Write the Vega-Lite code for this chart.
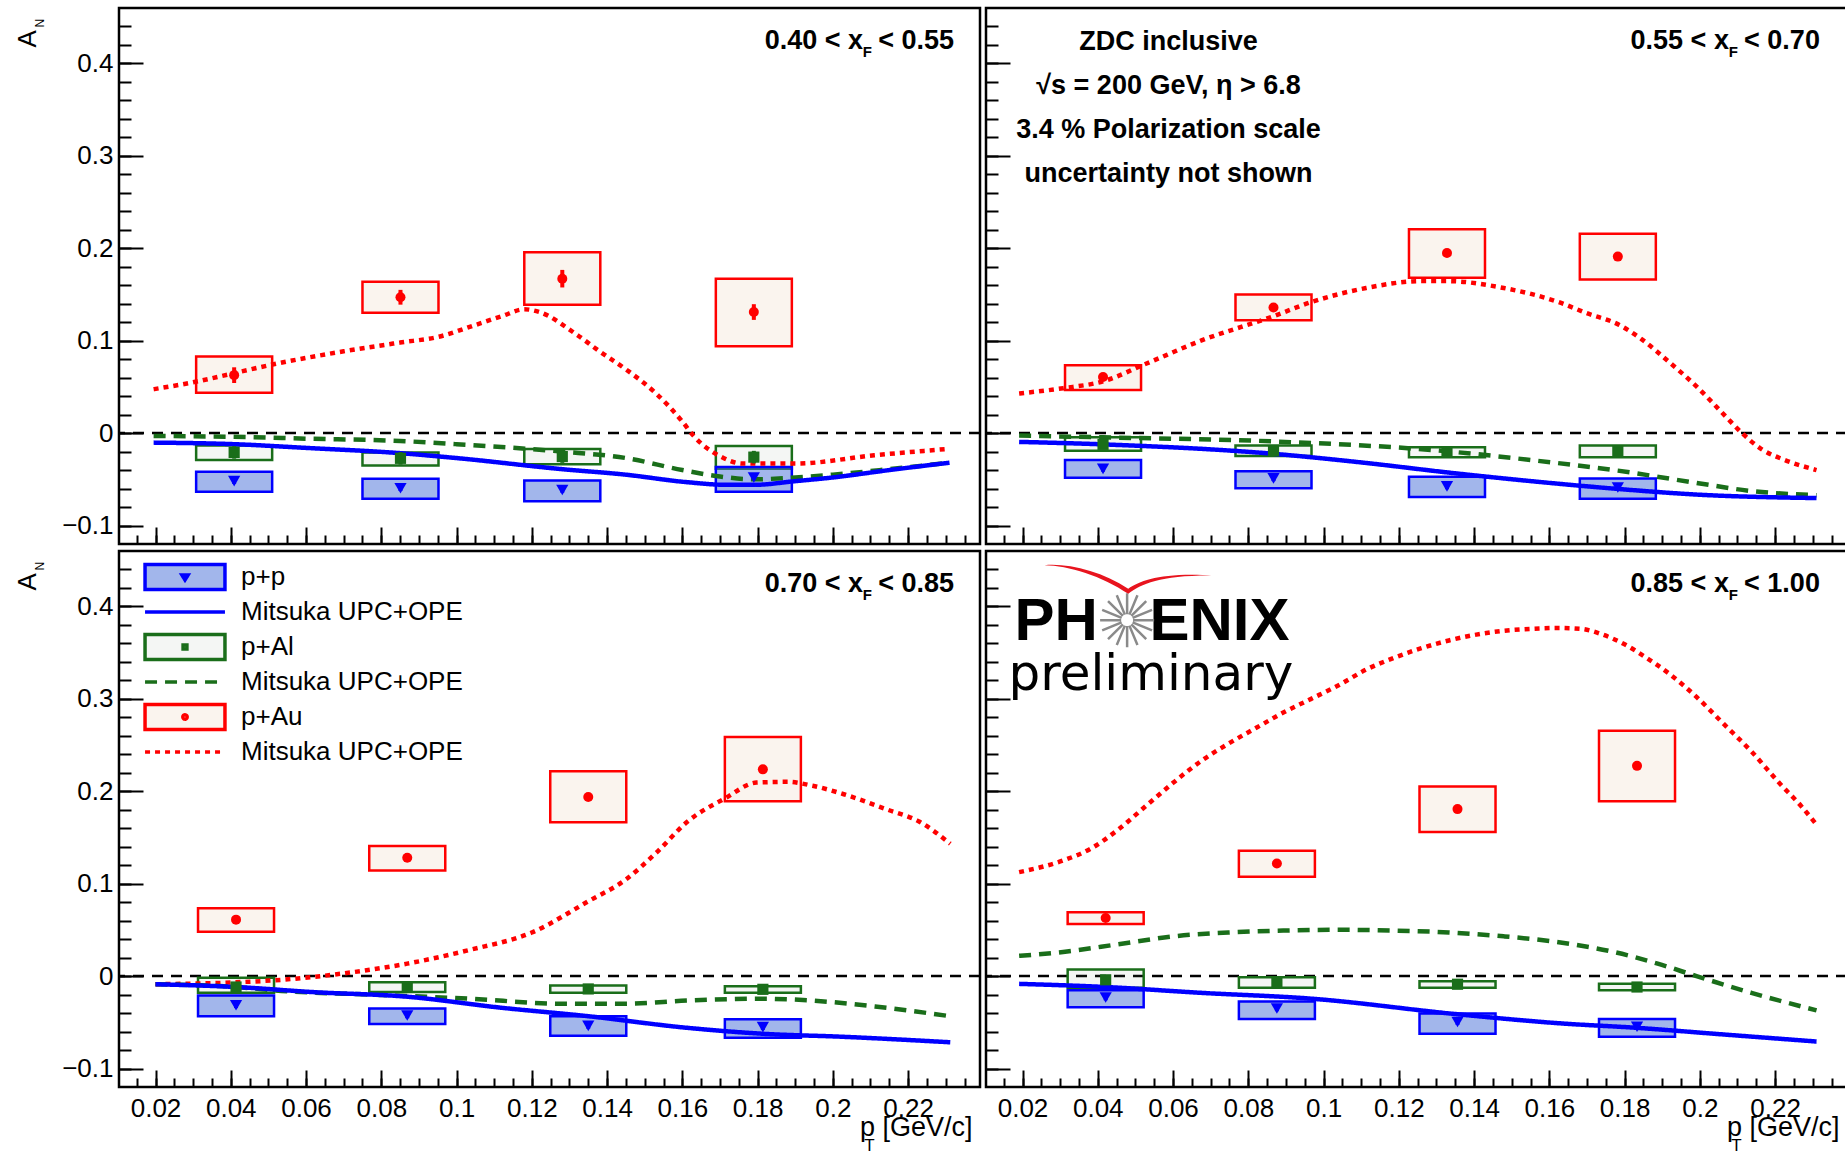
{
"$schema": "https://vega.github.io/schema/vega-lite/v6.json",
"autosize": {"type": "none"},
"padding": {"left": 119, "top": 8, "right": 1726, "bottom": 1147},
"background": "white",
"config": {
  "view": {"stroke": "black", "strokeWidth": 2.5},
  "font": "Liberation Sans",
  "text": {"font": "Liberation Sans", "color": "black"},
  "axis": {"labelFont": "Liberation Sans", "titleFont": "Liberation Sans", "labelFontSize": 26, "labelColor": "black", "titleColor": "black", "titleFontWeight": "normal", "tickColor": "black", "tickWidth": 2, "domain": false, "grid": false, "labelFlush": false, "labelOverlap": false}
},
"datasets": {
  "pts": [
    {"panel":"a","key":"p+Au","pt":0.0409,"ptLo":0.0308,"ptHi":0.051,"an":0.0627,"statLo":0.0542,"statHi":0.0712,"sysLo":0.0437,"sysHi":0.0828},
    {"panel":"a","key":"p+Au","pt":0.0851,"ptLo":0.075,"ptHi":0.0952,"an":0.147,"statLo":0.139,"statHi":0.155,"sysLo":0.1303,"sysHi":0.1637},
    {"panel":"a","key":"p+Au","pt":0.1281,"ptLo":0.118,"ptHi":0.1382,"an":0.1671,"statLo":0.1576,"statHi":0.1766,"sysLo":0.139,"sysHi":0.1956},
    {"panel":"a","key":"p+Au","pt":0.179,"ptLo":0.1689,"ptHi":0.1891,"an":0.131,"statLo":0.1225,"statHi":0.1395,"sysLo":0.094,"sysHi":0.167},
    {"panel":"a","key":"p+Al","pt":0.0409,"ptLo":0.0308,"ptHi":0.051,"an":-0.0209,"statLo":-0.0277,"statHi":-0.0141,"sysLo":-0.0292,"sysHi":-0.0133},
    {"panel":"a","key":"p+Al","pt":0.0851,"ptLo":0.075,"ptHi":0.0952,"an":-0.0273,"statLo":-0.0341,"statHi":-0.0205,"sysLo":-0.035,"sysHi":-0.0209},
    {"panel":"a","key":"p+Al","pt":0.1281,"ptLo":0.118,"ptHi":0.1382,"an":-0.0254,"statLo":-0.0322,"statHi":-0.0186,"sysLo":-0.0338,"sysHi":-0.0171},
    {"panel":"a","key":"p+Al","pt":0.179,"ptLo":0.1689,"ptHi":0.1891,"an":-0.026,"statLo":-0.0328,"statHi":-0.0192,"sysLo":-0.0387,"sysHi":-0.014},
    {"panel":"a","key":"p+p","pt":0.0409,"ptLo":0.0308,"ptHi":0.051,"an":-0.052,"statLo":-0.055,"statHi":-0.049,"sysLo":-0.0634,"sysHi":-0.0418},
    {"panel":"a","key":"p+p","pt":0.0851,"ptLo":0.075,"ptHi":0.0952,"an":-0.0596,"statLo":-0.0626,"statHi":-0.0566,"sysLo":-0.071,"sysHi":-0.0494},
    {"panel":"a","key":"p+p","pt":0.1281,"ptLo":0.118,"ptHi":0.1382,"an":-0.0615,"statLo":-0.0645,"statHi":-0.0585,"sysLo":-0.0737,"sysHi":-0.0513},
    {"panel":"a","key":"p+p","pt":0.179,"ptLo":0.1689,"ptHi":0.1891,"an":-0.048,"statLo":-0.051,"statHi":-0.045,"sysLo":-0.0634,"sysHi":-0.0368},

    {"panel":"b","key":"p+Au","pt":0.0414,"ptLo":0.0313,"ptHi":0.0515,"an":0.0608,"statLo":0.0578,"statHi":0.0638,"sysLo":0.0467,"sysHi":0.0733},
    {"panel":"b","key":"p+Au","pt":0.0867,"ptLo":0.0766,"ptHi":0.0968,"an":0.136,"statLo":0.133,"statHi":0.139,"sysLo":0.122,"sysHi":0.15},
    {"panel":"b","key":"p+Au","pt":0.1328,"ptLo":0.1227,"ptHi":0.1429,"an":0.1948,"statLo":0.1918,"statHi":0.1978,"sysLo":0.1682,"sysHi":0.2207},
    {"panel":"b","key":"p+Au","pt":0.1782,"ptLo":0.1681,"ptHi":0.1883,"an":0.191,"statLo":0.188,"statHi":0.194,"sysLo":0.1663,"sysHi":0.2157},
    {"panel":"b","key":"p+Al","pt":0.0414,"ptLo":0.0313,"ptHi":0.0515,"an":-0.0122,"statLo":-0.0162,"statHi":-0.0082,"sysLo":-0.019,"sysHi":-0.0046},
    {"panel":"b","key":"p+Al","pt":0.0867,"ptLo":0.0766,"ptHi":0.0968,"an":-0.019,"statLo":-0.023,"statHi":-0.015,"sysLo":-0.0247,"sysHi":-0.0133},
    {"panel":"b","key":"p+Al","pt":0.1328,"ptLo":0.1227,"ptHi":0.1429,"an":-0.0209,"statLo":-0.0249,"statHi":-0.0169,"sysLo":-0.0262,"sysHi":-0.0152},
    {"panel":"b","key":"p+Al","pt":0.1782,"ptLo":0.1681,"ptHi":0.1883,"an":-0.0197,"statLo":-0.0237,"statHi":-0.0157,"sysLo":-0.0262,"sysHi":-0.0133},
    {"panel":"b","key":"p+p","pt":0.0414,"ptLo":0.0313,"ptHi":0.0515,"an":-0.0387,"statLo":-0.0417,"statHi":-0.0357,"sysLo":-0.0482,"sysHi":-0.0292},
    {"panel":"b","key":"p+p","pt":0.0867,"ptLo":0.0766,"ptHi":0.0968,"an":-0.049,"statLo":-0.052,"statHi":-0.046,"sysLo":-0.0596,"sysHi":-0.0414},
    {"panel":"b","key":"p+p","pt":0.1328,"ptLo":0.1227,"ptHi":0.1429,"an":-0.0577,"statLo":-0.0607,"statHi":-0.0547,"sysLo":-0.0691,"sysHi":-0.0471},
    {"panel":"b","key":"p+p","pt":0.1782,"ptLo":0.1681,"ptHi":0.1883,"an":-0.0589,"statLo":-0.0619,"statHi":-0.0559,"sysLo":-0.071,"sysHi":-0.049},

    {"panel":"c","key":"p+Au","pt":0.0414,"ptLo":0.0313,"ptHi":0.0515,"an":0.0611,"statLo":0.0581,"statHi":0.0641,"sysLo":0.048,"sysHi":0.0733},
    {"panel":"c","key":"p+Au","pt":0.0869,"ptLo":0.0768,"ptHi":0.097,"an":0.128,"statLo":0.125,"statHi":0.131,"sysLo":0.1142,"sysHi":0.1407},
    {"panel":"c","key":"p+Au","pt":0.135,"ptLo":0.1249,"ptHi":0.1451,"an":0.1938,"statLo":0.1908,"statHi":0.1968,"sysLo":0.1664,"sysHi":0.2216},
    {"panel":"c","key":"p+Au","pt":0.1814,"ptLo":0.1713,"ptHi":0.1915,"an":0.2237,"statLo":0.2207,"statHi":0.2267,"sysLo":0.1892,"sysHi":0.2587},
    {"panel":"c","key":"p+Al","pt":0.0414,"ptLo":0.0313,"ptHi":0.0515,"an":-0.0118,"statLo":-0.0158,"statHi":-0.0078,"sysLo":-0.0181,"sysHi":-0.0017},
    {"panel":"c","key":"p+Al","pt":0.0869,"ptLo":0.0768,"ptHi":0.097,"an":-0.0118,"statLo":-0.0158,"statHi":-0.0078,"sysLo":-0.0173,"sysHi":-0.0067},
    {"panel":"c","key":"p+Al","pt":0.135,"ptLo":0.1249,"ptHi":0.1451,"an":-0.0139,"statLo":-0.0179,"statHi":-0.0099,"sysLo":-0.0181,"sysHi":-0.0101},
    {"panel":"c","key":"p+Al","pt":0.1814,"ptLo":0.1713,"ptHi":0.1915,"an":-0.0143,"statLo":-0.0183,"statHi":-0.0103,"sysLo":-0.0181,"sysHi":-0.011},
    {"panel":"c","key":"p+p","pt":0.0414,"ptLo":0.0313,"ptHi":0.0515,"an":-0.0316,"statLo":-0.0346,"statHi":-0.0286,"sysLo":-0.0434,"sysHi":-0.0211},
    {"panel":"c","key":"p+p","pt":0.0869,"ptLo":0.0768,"ptHi":0.097,"an":-0.0426,"statLo":-0.0456,"statHi":-0.0396,"sysLo":-0.0518,"sysHi":-0.035},
    {"panel":"c","key":"p+p","pt":0.135,"ptLo":0.1249,"ptHi":0.1451,"an":-0.0539,"statLo":-0.0569,"statHi":-0.0509,"sysLo":-0.0645,"sysHi":-0.0434},
    {"panel":"c","key":"p+p","pt":0.1814,"ptLo":0.1713,"ptHi":0.1915,"an":-0.0552,"statLo":-0.0582,"statHi":-0.0522,"sysLo":-0.0666,"sysHi":-0.0468},

    {"panel":"d","key":"p+Au","pt":0.0421,"ptLo":0.032,"ptHi":0.0522,"an":0.0628,"statLo":0.0598,"statHi":0.0658,"sysLo":0.0565,"sysHi":0.0691},
    {"panel":"d","key":"p+Au","pt":0.0876,"ptLo":0.0775,"ptHi":0.0977,"an":0.1218,"statLo":0.1188,"statHi":0.1248,"sysLo":0.1074,"sysHi":0.1357},
    {"panel":"d","key":"p+Au","pt":0.1356,"ptLo":0.1255,"ptHi":0.1457,"an":0.1807,"statLo":0.1777,"statHi":0.1837,"sysLo":0.1559,"sysHi":0.2052},
    {"panel":"d","key":"p+Au","pt":0.1833,"ptLo":0.1732,"ptHi":0.1934,"an":0.2275,"statLo":0.2245,"statHi":0.2305,"sysLo":0.1892,"sysHi":0.2654},
    {"panel":"d","key":"p+Al","pt":0.0421,"ptLo":0.032,"ptHi":0.0522,"an":-0.004,"statLo":-0.008,"statHi":0.0,"sysLo":-0.0126,"sysHi":0.0072},
    {"panel":"d","key":"p+Al","pt":0.0876,"ptLo":0.0775,"ptHi":0.0977,"an":-0.0063,"statLo":-0.0103,"statHi":-0.0023,"sysLo":-0.0126,"sysHi":-0.0013},
    {"panel":"d","key":"p+Al","pt":0.1356,"ptLo":0.1255,"ptHi":0.1457,"an":-0.0088,"statLo":-0.0128,"statHi":-0.0048,"sysLo":-0.0126,"sysHi":-0.0055},
    {"panel":"d","key":"p+Al","pt":0.1833,"ptLo":0.1732,"ptHi":0.1934,"an":-0.0118,"statLo":-0.0158,"statHi":-0.0078,"sysLo":-0.0152,"sysHi":-0.0084},
    {"panel":"d","key":"p+p","pt":0.0421,"ptLo":0.032,"ptHi":0.0522,"an":-0.0232,"statLo":-0.0262,"statHi":-0.0202,"sysLo":-0.0337,"sysHi":-0.0152},
    {"panel":"d","key":"p+p","pt":0.0876,"ptLo":0.0775,"ptHi":0.0977,"an":-0.035,"statLo":-0.038,"statHi":-0.032,"sysLo":-0.0463,"sysHi":-0.0274},
    {"panel":"d","key":"p+p","pt":0.1356,"ptLo":0.1255,"ptHi":0.1457,"an":-0.0497,"statLo":-0.0527,"statHi":-0.0467,"sysLo":-0.0624,"sysHi":-0.0404},
    {"panel":"d","key":"p+p","pt":0.1833,"ptLo":0.1732,"ptHi":0.1934,"an":-0.0548,"statLo":-0.0578,"statHi":-0.0518,"sysLo":-0.0657,"sysHi":-0.0463}
  ],
  "th": [
    {"panel":"a","key":"th_pAu","pt":0.0195,"an":0.0475},{"panel":"a","key":"th_pAu","pt":0.03,"an":0.055},{"panel":"a","key":"th_pAu","pt":0.041,"an":0.065},{"panel":"a","key":"th_pAu","pt":0.052,"an":0.075},{"panel":"a","key":"th_pAu","pt":0.07,"an":0.0885},{"panel":"a","key":"th_pAu","pt":0.085,"an":0.098},{"panel":"a","key":"th_pAu","pt":0.095,"an":0.104},{"panel":"a","key":"th_pAu","pt":0.105,"an":0.117},{"panel":"a","key":"th_pAu","pt":0.112,"an":0.1265},{"panel":"a","key":"th_pAu","pt":0.118,"an":0.134},{"panel":"a","key":"th_pAu","pt":0.122,"an":0.131},{"panel":"a","key":"th_pAu","pt":0.1316,"an":0.1075},{"panel":"a","key":"th_pAu","pt":0.138,"an":0.0885},{"panel":"a","key":"th_pAu","pt":0.145,"an":0.069},{"panel":"a","key":"th_pAu","pt":0.153,"an":0.043},{"panel":"a","key":"th_pAu","pt":0.16,"an":0.0125},{"panel":"a","key":"th_pAu","pt":0.163,"an":-0.003},{"panel":"a","key":"th_pAu","pt":0.17,"an":-0.025},{"panel":"a","key":"th_pAu","pt":0.176,"an":-0.033},{"panel":"a","key":"th_pAu","pt":0.19,"an":-0.033},{"panel":"a","key":"th_pAu","pt":0.211,"an":-0.024},{"panel":"a","key":"th_pAu","pt":0.231,"an":-0.017},
    {"panel":"a","key":"th_pAl","pt":0.0195,"an":-0.003},{"panel":"a","key":"th_pAl","pt":0.04,"an":-0.004},{"panel":"a","key":"th_pAl","pt":0.06,"an":-0.006},{"panel":"a","key":"th_pAl","pt":0.085,"an":-0.0085},{"panel":"a","key":"th_pAl","pt":0.1,"an":-0.012},{"panel":"a","key":"th_pAl","pt":0.128,"an":-0.02},{"panel":"a","key":"th_pAl","pt":0.145,"an":-0.027},{"panel":"a","key":"th_pAl","pt":0.16,"an":-0.04},{"panel":"a","key":"th_pAl","pt":0.17,"an":-0.047},{"panel":"a","key":"th_pAl","pt":0.179,"an":-0.05},{"panel":"a","key":"th_pAl","pt":0.19,"an":-0.048},{"panel":"a","key":"th_pAl","pt":0.2,"an":-0.045},{"panel":"a","key":"th_pAl","pt":0.215,"an":-0.039},{"panel":"a","key":"th_pAl","pt":0.231,"an":-0.032},
    {"panel":"a","key":"th_pp","pt":0.0195,"an":-0.0103},{"panel":"a","key":"th_pp","pt":0.041,"an":-0.012},{"panel":"a","key":"th_pp","pt":0.06,"an":-0.016},{"panel":"a","key":"th_pp","pt":0.085,"an":-0.0217},{"panel":"a","key":"th_pp","pt":0.1,"an":-0.027},{"panel":"a","key":"th_pp","pt":0.128,"an":-0.039},{"panel":"a","key":"th_pp","pt":0.145,"an":-0.045},{"panel":"a","key":"th_pp","pt":0.161,"an":-0.053},{"panel":"a","key":"th_pp","pt":0.172,"an":-0.056},{"panel":"a","key":"th_pp","pt":0.179,"an":-0.056},{"panel":"a","key":"th_pp","pt":0.19,"an":-0.052},{"panel":"a","key":"th_pp","pt":0.2,"an":-0.048},{"panel":"a","key":"th_pp","pt":0.215,"an":-0.04},{"panel":"a","key":"th_pp","pt":0.231,"an":-0.032},

    {"panel":"b","key":"th_pAu","pt":0.0191,"an":0.0429},{"panel":"b","key":"th_pAu","pt":0.0308,"an":0.0486},{"panel":"b","key":"th_pAu","pt":0.0414,"an":0.056},{"panel":"b","key":"th_pAu","pt":0.0528,"an":0.075},{"panel":"b","key":"th_pAu","pt":0.0674,"an":0.1},{"panel":"b","key":"th_pAu","pt":0.0867,"an":0.1265},{"panel":"b","key":"th_pAu","pt":0.0967,"an":0.1417},{"panel":"b","key":"th_pAu","pt":0.1113,"an":0.157},{"panel":"b","key":"th_pAu","pt":0.126,"an":0.1645},{"panel":"b","key":"th_pAu","pt":0.1328,"an":0.1645},{"panel":"b","key":"th_pAu","pt":0.1479,"an":0.157},{"panel":"b","key":"th_pAu","pt":0.1625,"an":0.1417},{"panel":"b","key":"th_pAu","pt":0.1698,"an":0.13},{"panel":"b","key":"th_pAu","pt":0.1786,"an":0.117},{"panel":"b","key":"th_pAu","pt":0.1844,"an":0.102},{"panel":"b","key":"th_pAu","pt":0.1918,"an":0.077},{"panel":"b","key":"th_pAu","pt":0.1991,"an":0.0505},{"panel":"b","key":"th_pAu","pt":0.2064,"an":0.02},{"panel":"b","key":"th_pAu","pt":0.2112,"an":0.0},{"panel":"b","key":"th_pAu","pt":0.2166,"an":-0.018},{"panel":"b","key":"th_pAu","pt":0.2225,"an":-0.029},{"panel":"b","key":"th_pAu","pt":0.231,"an":-0.04},
    {"panel":"b","key":"th_pAl","pt":0.0191,"an":-0.0027},{"panel":"b","key":"th_pAl","pt":0.0414,"an":-0.0046},{"panel":"b","key":"th_pAl","pt":0.0867,"an":-0.009},{"panel":"b","key":"th_pAl","pt":0.1328,"an":-0.0197},{"panel":"b","key":"th_pAl","pt":0.1552,"an":-0.0292},{"panel":"b","key":"th_pAl","pt":0.1782,"an":-0.0406},{"panel":"b","key":"th_pAl","pt":0.1991,"an":-0.0539},{"panel":"b","key":"th_pAl","pt":0.2137,"an":-0.0627},{"panel":"b","key":"th_pAl","pt":0.231,"an":-0.0672},
    {"panel":"b","key":"th_pp","pt":0.0191,"an":-0.0095},{"panel":"b","key":"th_pp","pt":0.0414,"an":-0.0122},{"panel":"b","key":"th_pp","pt":0.0867,"an":-0.0224},{"panel":"b","key":"th_pp","pt":0.1113,"an":-0.0323},{"panel":"b","key":"th_pp","pt":0.1328,"an":-0.0425},{"panel":"b","key":"th_pp","pt":0.1552,"an":-0.052},{"panel":"b","key":"th_pp","pt":0.1782,"an":-0.0604},{"panel":"b","key":"th_pp","pt":0.1991,"an":-0.0665},{"panel":"b","key":"th_pp","pt":0.231,"an":-0.0703},

    {"panel":"c","key":"th_pAu","pt":0.02,"an":-0.0088},{"panel":"c","key":"th_pAu","pt":0.0414,"an":-0.0067},{"panel":"c","key":"th_pAu","pt":0.0535,"an":-0.004},{"panel":"c","key":"th_pAu","pt":0.0701,"an":0.003},{"panel":"c","key":"th_pAu","pt":0.0869,"an":0.0135},{"panel":"c","key":"th_pAu","pt":0.1033,"an":0.0282},{"panel":"c","key":"th_pAu","pt":0.12,"an":0.0472},{"panel":"c","key":"th_pAu","pt":0.135,"an":0.0809},{"panel":"c","key":"th_pAu","pt":0.1448,"an":0.104},{"panel":"c","key":"th_pAu","pt":0.1531,"an":0.1336},{"panel":"c","key":"th_pAu","pt":0.1614,"an":0.1673},{"panel":"c","key":"th_pAu","pt":0.1714,"an":0.1925},{"panel":"c","key":"th_pAu","pt":0.1797,"an":0.2094},{"panel":"c","key":"th_pAu","pt":0.188,"an":0.2102},{"panel":"c","key":"th_pAu","pt":0.1946,"an":0.206},{"panel":"c","key":"th_pAu","pt":0.2029,"an":0.1968},{"panel":"c","key":"th_pAu","pt":0.2146,"an":0.18},{"panel":"c","key":"th_pAu","pt":0.2229,"an":0.1673},{"panel":"c","key":"th_pAu","pt":0.2312,"an":0.1432},
    {"panel":"c","key":"th_pAl","pt":0.02,"an":-0.0088},{"panel":"c","key":"th_pAl","pt":0.0414,"an":-0.0118},{"panel":"c","key":"th_pAl","pt":0.0535,"an":-0.016},{"panel":"c","key":"th_pAl","pt":0.0784,"an":-0.0202},{"panel":"c","key":"th_pAl","pt":0.1033,"an":-0.0244},{"panel":"c","key":"th_pAl","pt":0.1282,"an":-0.0299},{"panel":"c","key":"th_pAl","pt":0.1448,"an":-0.0299},{"panel":"c","key":"th_pAl","pt":0.1614,"an":-0.0265},{"panel":"c","key":"th_pAl","pt":0.1797,"an":-0.0244},{"panel":"c","key":"th_pAl","pt":0.1946,"an":-0.0265},{"panel":"c","key":"th_pAl","pt":0.2112,"an":-0.0329},{"panel":"c","key":"th_pAl","pt":0.2312,"an":-0.0434},
    {"panel":"c","key":"th_pp","pt":0.02,"an":-0.0088},{"panel":"c","key":"th_pp","pt":0.0414,"an":-0.0118},{"panel":"c","key":"th_pp","pt":0.0618,"an":-0.0173},{"panel":"c","key":"th_pp","pt":0.0869,"an":-0.0223},{"panel":"c","key":"th_pp","pt":0.1116,"an":-0.0341},{"panel":"c","key":"th_pp","pt":0.135,"an":-0.0434},{"panel":"c","key":"th_pp","pt":0.1614,"an":-0.056},{"panel":"c","key":"th_pp","pt":0.1814,"an":-0.0624},{"panel":"c","key":"th_pp","pt":0.2029,"an":-0.0657},{"panel":"c","key":"th_pp","pt":0.2312,"an":-0.0716},

    {"panel":"d","key":"th_pAu","pt":0.0191,"an":0.1125},{"panel":"d","key":"th_pAu","pt":0.0308,"an":0.1251},{"panel":"d","key":"th_pAu","pt":0.0381,"an":0.1378},{"panel":"d","key":"th_pAu","pt":0.0455,"an":0.1588},{"panel":"d","key":"th_pAu","pt":0.0528,"an":0.1841},{"panel":"d","key":"th_pAu","pt":0.0601,"an":0.2094},{"panel":"d","key":"th_pAu","pt":0.0674,"an":0.2326},{"panel":"d","key":"th_pAu","pt":0.0747,"an":0.2515},{"panel":"d","key":"th_pAu","pt":0.082,"an":0.2684},{"panel":"d","key":"th_pAu","pt":0.0893,"an":0.2852},{"panel":"d","key":"th_pAu","pt":0.0967,"an":0.3},{"panel":"d","key":"th_pAu","pt":0.104,"an":0.3147},{"panel":"d","key":"th_pAu","pt":0.1113,"an":0.3316},{"panel":"d","key":"th_pAu","pt":0.1186,"an":0.3442},{"panel":"d","key":"th_pAu","pt":0.126,"an":0.3548},{"panel":"d","key":"th_pAu","pt":0.1333,"an":0.3632},{"panel":"d","key":"th_pAu","pt":0.1406,"an":0.3695},{"panel":"d","key":"th_pAu","pt":0.1479,"an":0.3737},{"panel":"d","key":"th_pAu","pt":0.1552,"an":0.3758},{"panel":"d","key":"th_pAu","pt":0.1625,"an":0.3767},{"panel":"d","key":"th_pAu","pt":0.1683,"an":0.3758},{"panel":"d","key":"th_pAu","pt":0.1742,"an":0.3695},{"panel":"d","key":"th_pAu","pt":0.18,"an":0.359},{"panel":"d","key":"th_pAu","pt":0.1859,"an":0.3442},{"panel":"d","key":"th_pAu","pt":0.1918,"an":0.3274},{"panel":"d","key":"th_pAu","pt":0.1991,"an":0.3021},{"panel":"d","key":"th_pAu","pt":0.2064,"an":0.2726},{"panel":"d","key":"th_pAu","pt":0.2137,"an":0.2431},{"panel":"d","key":"th_pAu","pt":0.221,"an":0.2094},{"panel":"d","key":"th_pAu","pt":0.2269,"an":0.1841},{"panel":"d","key":"th_pAu","pt":0.231,"an":0.1639},
    {"panel":"d","key":"th_pAl","pt":0.0191,"an":0.0219},{"panel":"d","key":"th_pAl","pt":0.0308,"an":0.0261},{"panel":"d","key":"th_pAl","pt":0.0455,"an":0.0345},{"panel":"d","key":"th_pAl","pt":0.0601,"an":0.043},{"panel":"d","key":"th_pAl","pt":0.0747,"an":0.0472},{"panel":"d","key":"th_pAl","pt":0.0893,"an":0.0493},{"panel":"d","key":"th_pAl","pt":0.104,"an":0.0501},{"panel":"d","key":"th_pAl","pt":0.1186,"an":0.0493},{"panel":"d","key":"th_pAl","pt":0.1333,"an":0.0472},{"panel":"d","key":"th_pAl","pt":0.1479,"an":0.043},{"panel":"d","key":"th_pAl","pt":0.1625,"an":0.0367},{"panel":"d","key":"th_pAl","pt":0.1771,"an":0.0261},{"panel":"d","key":"th_pAl","pt":0.1888,"an":0.0135},{"panel":"d","key":"th_pAl","pt":0.1991,"an":0.0},{"panel":"d","key":"th_pAl","pt":0.2137,"an":-0.0181},{"panel":"d","key":"th_pAl","pt":0.231,"an":-0.0371},
    {"panel":"d","key":"th_pp","pt":0.0191,"an":-0.0084},{"panel":"d","key":"th_pp","pt":0.0421,"an":-0.0118},{"panel":"d","key":"th_pp","pt":0.0674,"an":-0.0181},{"panel":"d","key":"th_pp","pt":0.0967,"an":-0.0244},{"panel":"d","key":"th_pp","pt":0.1356,"an":-0.0413},{"panel":"d","key":"th_pp","pt":0.1625,"an":-0.051},{"panel":"d","key":"th_pp","pt":0.1833,"an":-0.056},{"panel":"d","key":"th_pp","pt":0.2064,"an":-0.0632},{"panel":"d","key":"th_pp","pt":0.231,"an":-0.0708}
  ]
},
"columns": 2,
"spacing": {"row": 7, "column": 6},
"bounds": "flush",
"resolve": {"legend": {"stroke": "independent"}},
"concat": [
{
  "width": 861, "height": 536,
  "resolve": {"axis": {"x": "independent", "y": "independent"}},
  "layer": [
    {"data": {"values": [{}]}, "mark": {"type": "rule", "strokeDash": [11, 8], "strokeWidth": 2.5, "color": "black"},
     "encoding": {"y": {"datum": 0, "type": "quantitative", "scale": {"domain": [-0.12, 0.46], "nice": false, "zero": false}, "axis": null}}},
    {"data": {"name": "pts"}, "transform": [{"filter": "datum.panel == 'a'"}],
     "mark": {"type": "rect", "strokeWidth": 2.5},
     "encoding": {
       "x": {"field": "ptLo", "type": "quantitative", "scale": {"domain": [0.0103, 0.2391], "nice": false, "zero": false},
             "axis": {"orient": "bottom", "values": [0.02,0.04,0.06,0.08,0.1,0.12,0.14,0.16,0.18,0.2,0.22], "tickSize": -17, "labels": false, "title": null}},
       "x2": {"field": "ptHi"},
       "y": {"field": "sysLo", "type": "quantitative", "scale": {"domain": [-0.12, 0.46], "nice": false, "zero": false},
             "axis": {"orient": "left", "values": [-0.1,0,0.1,0.2,0.3,0.4], "format": "~g", "tickSize": -24, "labelPadding": 30, "title": "A", "titleFontSize": 26, "titleAngle": 270, "titleX": -84, "titleY": 39, "titleAlign": "left", "titleBaseline": "alphabetic"}},
       "y2": {"field": "sysHi"},
       "fill": {"field": "key", "type": "nominal", "scale": {"domain": ["p+p","p+Al","p+Au"], "range": ["rgba(70,110,215,0.5)","rgba(120,140,120,0.08)","rgba(210,150,90,0.10)"]}, "legend": null},
       "stroke": {"field": "key", "type": "nominal", "scale": {"domain": ["p+p","th_pp","p+Al","th_pAl","p+Au","th_pAu"], "range": ["#0000ff","#0000ff","#1a6e1a","#1a6e1a","#ff0000","#ff0000"]}, "legend": null}
     }},
    {"data": {"name": "th"}, "transform": [{"filter": "datum.panel == 'a'"}],
     "mark": {"type": "line", "strokeWidth": 4.5, "interpolate": "monotone", "strokeCap": "butt"},
     "encoding": {
       "x": {"field": "pt", "type": "quantitative", "scale": {"domain": [0.0103, 0.2391], "nice": false, "zero": false}, "axis": null},
       "y": {"field": "an", "type": "quantitative", "scale": {"domain": [-0.12, 0.46], "nice": false, "zero": false}, "axis": null},
       "stroke": {"field": "key", "type": "nominal", "scale": {"domain": ["p+p","th_pp","p+Al","th_pAl","p+Au","th_pAu"], "range": ["#0000ff","#0000ff","#1a6e1a","#1a6e1a","#ff0000","#ff0000"]}, "legend": null},
       "strokeDash": {"field": "key", "type": "nominal", "scale": {"domain": ["th_pp","th_pAl","th_pAu"], "range": [[1,0],[12,8],[5,5]]}, "legend": null}
     }},
    {"data": {"name": "pts"}, "transform": [{"filter": "datum.panel == 'a'"}],
     "mark": {"type": "rule", "strokeWidth": 4},
     "encoding": {
       "x": {"field": "pt", "type": "quantitative", "scale": {"domain": [0.0103, 0.2391], "nice": false, "zero": false}, "axis": null},
       "y": {"field": "statLo", "type": "quantitative", "scale": {"domain": [-0.12, 0.46], "nice": false, "zero": false}, "axis": null},
       "y2": {"field": "statHi"},
       "color": {"field": "key", "type": "nominal", "scale": {"domain": ["p+p","p+Al","p+Au"], "range": ["#0000ff","#1a6e1a","#ff0000"]}, "legend": null}
     }},
    {"data": {"name": "pts"}, "transform": [{"filter": "datum.panel == 'a'"}],
     "mark": {"type": "point", "filled": true, "opacity": 1},
     "encoding": {
       "x": {"field": "pt", "type": "quantitative", "scale": {"domain": [0.0103, 0.2391], "nice": false, "zero": false},
             "axis": {"orient": "bottom", "values": [0.015,0.02,0.025,0.03,0.035,0.04,0.045,0.05,0.055,0.06,0.065,0.07,0.075,0.08,0.085,0.09,0.095,0.1,0.105,0.11,0.115,0.12,0.125,0.13,0.135,0.14,0.145,0.15,0.155,0.16,0.165,0.17,0.175,0.18,0.185,0.19,0.195,0.2,0.205,0.21,0.215,0.22,0.225,0.23,0.235], "tickSize": -9, "labels": false, "title": null}},
       "y": {"field": "an", "type": "quantitative", "scale": {"domain": [-0.12, 0.46], "nice": false, "zero": false},
             "axis": {"orient": "left", "values": [-0.1,-0.08,-0.06,-0.04,-0.02,0,0.02,0.04,0.06,0.08,0.1,0.12,0.14,0.16,0.18,0.2,0.22,0.24,0.26,0.28,0.3,0.32,0.34,0.36,0.38,0.4,0.42,0.44], "tickSize": -12, "labels": false, "title": "N", "titleFontSize": 12, "titleAngle": 270, "titleX": -76, "titleY": 19, "titleAlign": "left", "titleBaseline": "alphabetic"}},
       "color": {"field": "key", "type": "nominal", "scale": {"domain": ["p+p","p+Al","p+Au"], "range": ["#0000ff","#1a6e1a","#ff0000"]}, "legend": null},
       "shape": {"field": "key", "type": "nominal", "scale": {"domain": ["p+p","p+Al","p+Au"], "range": ["triangle-down","square","circle"]}, "legend": null},
       "size": {"field": "key", "type": "nominal", "scale": {"domain": ["p+p","p+Al","p+Au"], "range": [150, 100, 115]}, "legend": null}
     }},
    {"data": {"values": [{}]}, "mark": {"type": "text", "text": "< 0.55", "align": "right", "baseline": "alphabetic", "fontSize": 27, "fontWeight": "bold"},
     "encoding": {"x": {"datum": 0.2322, "type": "quantitative", "axis": null}, "y": {"datum": 0.4152, "type": "quantitative", "axis": null}}},
    {"data": {"values": [{}]}, "mark": {"type": "text", "text": "F", "align": "right", "baseline": "alphabetic", "fontSize": 15, "fontWeight": "bold", "dx": -82, "dy": 8},
     "encoding": {"x": {"datum": 0.2322, "type": "quantitative", "axis": null}, "y": {"datum": 0.4152, "type": "quantitative", "axis": null}}},
    {"data": {"values": [{}]}, "mark": {"type": "text", "text": "0.40 < x", "align": "right", "baseline": "alphabetic", "fontSize": 27, "fontWeight": "bold", "dx": -91},
     "encoding": {"x": {"datum": 0.2322, "type": "quantitative", "axis": null}, "y": {"datum": 0.4152, "type": "quantitative", "axis": null}}}
  ]
},
{
  "width": 861, "height": 536,
  "resolve": {"axis": {"x": "independent", "y": "independent"}},
  "layer": [
    {"data": {"values": [{}]}, "mark": {"type": "rule", "strokeDash": [11, 8], "strokeWidth": 2.5, "color": "black"},
     "encoding": {"y": {"datum": 0, "type": "quantitative", "scale": {"domain": [-0.12, 0.46], "nice": false, "zero": false}, "axis": null}}},
    {"data": {"name": "pts"}, "transform": [{"filter": "datum.panel == 'b'"}],
     "mark": {"type": "rect", "strokeWidth": 2.5},
     "encoding": {
       "x": {"field": "ptLo", "type": "quantitative", "scale": {"domain": [0.0103, 0.2391], "nice": false, "zero": false},
             "axis": {"orient": "bottom", "values": [0.02,0.04,0.06,0.08,0.1,0.12,0.14,0.16,0.18,0.2,0.22], "tickSize": -17, "labels": false, "title": null}},
       "x2": {"field": "ptHi"},
       "y": {"field": "sysLo", "type": "quantitative", "scale": {"domain": [-0.12, 0.46], "nice": false, "zero": false},
             "axis": {"orient": "left", "values": [-0.1,0,0.1,0.2,0.3,0.4], "tickSize": -24, "labels": false, "title": null}},
       "y2": {"field": "sysHi"},
       "fill": {"field": "key", "type": "nominal", "scale": {"domain": ["p+p","p+Al","p+Au"], "range": ["rgba(70,110,215,0.5)","rgba(120,140,120,0.08)","rgba(210,150,90,0.10)"]}, "legend": null},
       "stroke": {"field": "key", "type": "nominal", "scale": {"domain": ["p+p","th_pp","p+Al","th_pAl","p+Au","th_pAu"], "range": ["#0000ff","#0000ff","#1a6e1a","#1a6e1a","#ff0000","#ff0000"]}, "legend": null}
     }},
    {"data": {"name": "th"}, "transform": [{"filter": "datum.panel == 'b'"}],
     "mark": {"type": "line", "strokeWidth": 4.5, "interpolate": "monotone", "strokeCap": "butt"},
     "encoding": {
       "x": {"field": "pt", "type": "quantitative", "scale": {"domain": [0.0103, 0.2391], "nice": false, "zero": false}, "axis": null},
       "y": {"field": "an", "type": "quantitative", "scale": {"domain": [-0.12, 0.46], "nice": false, "zero": false}, "axis": null},
       "stroke": {"field": "key", "type": "nominal", "scale": {"domain": ["p+p","th_pp","p+Al","th_pAl","p+Au","th_pAu"], "range": ["#0000ff","#0000ff","#1a6e1a","#1a6e1a","#ff0000","#ff0000"]}, "legend": null},
       "strokeDash": {"field": "key", "type": "nominal", "scale": {"domain": ["th_pp","th_pAl","th_pAu"], "range": [[1,0],[12,8],[5,5]]}, "legend": null}
     }},
    {"data": {"name": "pts"}, "transform": [{"filter": "datum.panel == 'b'"}],
     "mark": {"type": "rule", "strokeWidth": 4},
     "encoding": {
       "x": {"field": "pt", "type": "quantitative", "scale": {"domain": [0.0103, 0.2391], "nice": false, "zero": false}, "axis": null},
       "y": {"field": "statLo", "type": "quantitative", "scale": {"domain": [-0.12, 0.46], "nice": false, "zero": false}, "axis": null},
       "y2": {"field": "statHi"},
       "color": {"field": "key", "type": "nominal", "scale": {"domain": ["p+p","p+Al","p+Au"], "range": ["#0000ff","#1a6e1a","#ff0000"]}, "legend": null}
     }},
    {"data": {"name": "pts"}, "transform": [{"filter": "datum.panel == 'b'"}],
     "mark": {"type": "point", "filled": true, "opacity": 1},
     "encoding": {
       "x": {"field": "pt", "type": "quantitative", "scale": {"domain": [0.0103, 0.2391], "nice": false, "zero": false},
             "axis": {"orient": "bottom", "values": [0.015,0.02,0.025,0.03,0.035,0.04,0.045,0.05,0.055,0.06,0.065,0.07,0.075,0.08,0.085,0.09,0.095,0.1,0.105,0.11,0.115,0.12,0.125,0.13,0.135,0.14,0.145,0.15,0.155,0.16,0.165,0.17,0.175,0.18,0.185,0.19,0.195,0.2,0.205,0.21,0.215,0.22,0.225,0.23,0.235], "tickSize": -9, "labels": false, "title": null}},
       "y": {"field": "an", "type": "quantitative", "scale": {"domain": [-0.12, 0.46], "nice": false, "zero": false},
             "axis": {"orient": "left", "values": [-0.1,-0.08,-0.06,-0.04,-0.02,0,0.02,0.04,0.06,0.08,0.1,0.12,0.14,0.16,0.18,0.2,0.22,0.24,0.26,0.28,0.3,0.32,0.34,0.36,0.38,0.4,0.42,0.44], "tickSize": -12, "labels": false, "title": null}},
       "color": {"field": "key", "type": "nominal", "scale": {"domain": ["p+p","p+Al","p+Au"], "range": ["#0000ff","#1a6e1a","#ff0000"]}, "legend": null},
       "shape": {"field": "key", "type": "nominal", "scale": {"domain": ["p+p","p+Al","p+Au"], "range": ["triangle-down","square","circle"]}, "legend": null},
       "size": {"field": "key", "type": "nominal", "scale": {"domain": ["p+p","p+Al","p+Au"], "range": [150, 100, 115]}, "legend": null}
     }},
    {"data": {"values": [{}]}, "mark": {"type": "text", "text": "< 0.70", "align": "right", "baseline": "alphabetic", "fontSize": 27, "fontWeight": "bold"},
     "encoding": {"x": {"datum": 0.2319, "type": "quantitative", "axis": null}, "y": {"datum": 0.4152, "type": "quantitative", "axis": null}}},
    {"data": {"values": [{}]}, "mark": {"type": "text", "text": "F", "align": "right", "baseline": "alphabetic", "fontSize": 15, "fontWeight": "bold", "dx": -82, "dy": 8},
     "encoding": {"x": {"datum": 0.2319, "type": "quantitative", "axis": null}, "y": {"datum": 0.4152, "type": "quantitative", "axis": null}}},
    {"data": {"values": [{}]}, "mark": {"type": "text", "text": "0.55 < x", "align": "right", "baseline": "alphabetic", "fontSize": 27, "fontWeight": "bold", "dx": -91},
     "encoding": {"x": {"datum": 0.2319, "type": "quantitative", "axis": null}, "y": {"datum": 0.4152, "type": "quantitative", "axis": null}}},
    {"data": {"values": [{}]}, "mark": {"type": "text", "text": ["ZDC inclusive", "√s = 200 GeV,  η > 6.8", "3.4 % Polarization scale", "uncertainty not shown"], "lineHeight": 44, "align": "center", "baseline": "alphabetic", "fontSize": 27, "fontWeight": "bold"},
     "encoding": {"x": {"datum": 0.0588, "type": "quantitative", "axis": null}, "y": {"datum": 0.4144, "type": "quantitative", "axis": null}}}
  ]
},
{
  "width": 861, "height": 536,
  "resolve": {"axis": {"x": "independent", "y": "independent"}},
  "layer": [
    {"data": {"values": [{}]}, "mark": {"type": "rule", "strokeDash": [11, 8], "strokeWidth": 2.5, "color": "black"},
     "encoding": {"y": {"datum": 0, "type": "quantitative", "scale": {"domain": [-0.12, 0.46], "nice": false, "zero": false}, "axis": null}}},
    {"data": {"name": "pts"}, "transform": [{"filter": "datum.panel == 'c'"}],
     "mark": {"type": "rect", "strokeWidth": 2.5},
     "encoding": {
       "x": {"field": "ptLo", "type": "quantitative", "scale": {"domain": [0.0103, 0.2391], "nice": false, "zero": false},
             "axis": {"orient": "bottom", "values": [0.02,0.04,0.06,0.08,0.1,0.12,0.14,0.16,0.18,0.2,0.22], "format": "~g", "tickSize": -17, "labelPadding": 25, "title": "p  [GeV/c]", "titleFontSize": 27, "titleX": 853, "titleY": 48, "titleAlign": "right", "titleBaseline": "alphabetic", "titleAngle": 0}},
       "x2": {"field": "ptHi"},
       "y": {"field": "sysLo", "type": "quantitative", "scale": {"domain": [-0.12, 0.46], "nice": false, "zero": false},
             "axis": {"orient": "left", "values": [-0.1,0,0.1,0.2,0.3,0.4], "format": "~g", "tickSize": -24, "labelPadding": 30, "title": "A", "titleFontSize": 26, "titleAngle": 270, "titleX": -84, "titleY": 39, "titleAlign": "left", "titleBaseline": "alphabetic"}},
       "y2": {"field": "sysHi"},
       "fill": {"field": "key", "type": "nominal", "scale": {"domain": ["p+p","p+Al","p+Au"], "range": ["rgba(70,110,215,0.5)","rgba(120,140,120,0.08)","rgba(210,150,90,0.10)"]}, "legend": null},
       "stroke": {"field": "key", "type": "nominal", "scale": {"domain": ["p+p","th_pp","p+Al","th_pAl","p+Au","th_pAu"], "range": ["#0000ff","#0000ff","#1a6e1a","#1a6e1a","#ff0000","#ff0000"]},
         "legend": {"orient": "none", "legendX": 25, "legendY": 12, "title": null, "padding": 0, "symbolSize": 576, "symbolStrokeWidth": 3.5, "symbolOffset": 27, "labelFontSize": 26, "labelFont": "Liberation Sans", "labelColor": "black", "labelOffset": 42, "labelLimit": 500, "rowPadding": -5,
           "labelExpr": "indexof(datum.value, 'th_') == 0 ? 'Mitsuka UPC+OPE' : datum.value",
           "symbolType": {"expr": "datum.value == 'p+p' ? 'M-3.33,-1.04H3.33V1.04H-3.33Z M-0.26,-0.17L0.26,-0.17L0,0.25Z' : datum.value == 'p+Al' ? 'M-3.33,-1.04H3.33V1.04H-3.33Z M-0.16,-0.16H0.16V0.16H-0.16Z' : datum.value == 'p+Au' ? 'M-3.33,-1.04H3.33V1.04H-3.33Z M-0.18,0A0.18,0.18,0,1,0,0.18,0A0.18,0.18,0,1,0,-0.18,0Z' : 'M-3.33,-1.04M-3.33,1.04M-3.33,0H3.33'"},
           "symbolFillColor": {"expr": "datum.value == 'p+p' ? 'rgba(70,110,215,0.5)' : datum.value == 'p+Al' ? 'rgba(120,140,120,0.08)' : datum.value == 'p+Au' ? 'rgba(210,150,90,0.10)' : 'transparent'"},
           "symbolDash": {"expr": "datum.value == 'th_pAl' ? [12,8] : datum.value == 'th_pAu' ? [5,5] : [1,0]"}
         }}
     }},
    {"data": {"name": "th"}, "transform": [{"filter": "datum.panel == 'c'"}],
     "mark": {"type": "line", "strokeWidth": 4.5, "interpolate": "monotone", "strokeCap": "butt"},
     "encoding": {
       "x": {"field": "pt", "type": "quantitative", "scale": {"domain": [0.0103, 0.2391], "nice": false, "zero": false}, "axis": null},
       "y": {"field": "an", "type": "quantitative", "scale": {"domain": [-0.12, 0.46], "nice": false, "zero": false}, "axis": null},
       "stroke": {"field": "key", "type": "nominal", "scale": {"domain": ["p+p","th_pp","p+Al","th_pAl","p+Au","th_pAu"], "range": ["#0000ff","#0000ff","#1a6e1a","#1a6e1a","#ff0000","#ff0000"]}, "legend": null},
       "strokeDash": {"field": "key", "type": "nominal", "scale": {"domain": ["th_pp","th_pAl","th_pAu"], "range": [[1,0],[12,8],[5,5]]}, "legend": null}
     }},
    {"data": {"name": "pts"}, "transform": [{"filter": "datum.panel == 'c'"}],
     "mark": {"type": "rule", "strokeWidth": 4},
     "encoding": {
       "x": {"field": "pt", "type": "quantitative", "scale": {"domain": [0.0103, 0.2391], "nice": false, "zero": false}, "axis": null},
       "y": {"field": "statLo", "type": "quantitative", "scale": {"domain": [-0.12, 0.46], "nice": false, "zero": false}, "axis": null},
       "y2": {"field": "statHi"},
       "color": {"field": "key", "type": "nominal", "scale": {"domain": ["p+p","p+Al","p+Au"], "range": ["#0000ff","#1a6e1a","#ff0000"]}, "legend": null}
     }},
    {"data": {"name": "pts"}, "transform": [{"filter": "datum.panel == 'c'"}],
     "mark": {"type": "point", "filled": true, "opacity": 1},
     "encoding": {
       "x": {"field": "pt", "type": "quantitative", "scale": {"domain": [0.0103, 0.2391], "nice": false, "zero": false},
             "axis": {"orient": "bottom", "values": [0.015,0.02,0.025,0.03,0.035,0.04,0.045,0.05,0.055,0.06,0.065,0.07,0.075,0.08,0.085,0.09,0.095,0.1,0.105,0.11,0.115,0.12,0.125,0.13,0.135,0.14,0.145,0.15,0.155,0.16,0.165,0.17,0.175,0.18,0.185,0.19,0.195,0.2,0.205,0.21,0.215,0.22,0.225,0.23,0.235], "tickSize": -9, "labels": false, "title": "T", "titleFontSize": 17, "titleX": 750, "titleY": 63, "titleAlign": "center", "titleBaseline": "alphabetic", "titleAngle": 0}},
       "y": {"field": "an", "type": "quantitative", "scale": {"domain": [-0.12, 0.46], "nice": false, "zero": false},
             "axis": {"orient": "left", "values": [-0.1,-0.08,-0.06,-0.04,-0.02,0,0.02,0.04,0.06,0.08,0.1,0.12,0.14,0.16,0.18,0.2,0.22,0.24,0.26,0.28,0.3,0.32,0.34,0.36,0.38,0.4,0.42,0.44], "tickSize": -12, "labels": false, "title": "N", "titleFontSize": 12, "titleAngle": 270, "titleX": -76, "titleY": 19, "titleAlign": "left", "titleBaseline": "alphabetic"}},
       "color": {"field": "key", "type": "nominal", "scale": {"domain": ["p+p","p+Al","p+Au"], "range": ["#0000ff","#1a6e1a","#ff0000"]}, "legend": null},
       "shape": {"field": "key", "type": "nominal", "scale": {"domain": ["p+p","p+Al","p+Au"], "range": ["triangle-down","square","circle"]}, "legend": null},
       "size": {"field": "key", "type": "nominal", "scale": {"domain": ["p+p","p+Al","p+Au"], "range": [150, 100, 115]}, "legend": null}
     }},
    {"data": {"values": [{}]}, "mark": {"type": "text", "text": "< 0.85", "align": "right", "baseline": "alphabetic", "fontSize": 27, "fontWeight": "bold"},
     "encoding": {"x": {"datum": 0.2322, "type": "quantitative", "axis": null}, "y": {"datum": 0.4152, "type": "quantitative", "axis": null}}},
    {"data": {"values": [{}]}, "mark": {"type": "text", "text": "F", "align": "right", "baseline": "alphabetic", "fontSize": 15, "fontWeight": "bold", "dx": -82, "dy": 8},
     "encoding": {"x": {"datum": 0.2322, "type": "quantitative", "axis": null}, "y": {"datum": 0.4152, "type": "quantitative", "axis": null}}},
    {"data": {"values": [{}]}, "mark": {"type": "text", "text": "0.70 < x", "align": "right", "baseline": "alphabetic", "fontSize": 27, "fontWeight": "bold", "dx": -91},
     "encoding": {"x": {"datum": 0.2322, "type": "quantitative", "axis": null}, "y": {"datum": 0.4152, "type": "quantitative", "axis": null}}}
  ]
},
{
  "width": 861, "height": 536,
  "resolve": {"axis": {"x": "independent", "y": "independent"}},
  "layer": [
    {"data": {"values": [{}]}, "mark": {"type": "rule", "strokeDash": [11, 8], "strokeWidth": 2.5, "color": "black"},
     "encoding": {"y": {"datum": 0, "type": "quantitative", "scale": {"domain": [-0.12, 0.46], "nice": false, "zero": false}, "axis": null}}},
    {"data": {"name": "pts"}, "transform": [{"filter": "datum.panel == 'd'"}],
     "mark": {"type": "rect", "strokeWidth": 2.5},
     "encoding": {
       "x": {"field": "ptLo", "type": "quantitative", "scale": {"domain": [0.0103, 0.2391], "nice": false, "zero": false},
             "axis": {"orient": "bottom", "values": [0.02,0.04,0.06,0.08,0.1,0.12,0.14,0.16,0.18,0.2,0.22], "format": "~g", "tickSize": -17, "labelPadding": 25, "title": "p  [GeV/c]", "titleFontSize": 27, "titleX": 853, "titleY": 48, "titleAlign": "right", "titleBaseline": "alphabetic", "titleAngle": 0}},
       "x2": {"field": "ptHi"},
       "y": {"field": "sysLo", "type": "quantitative", "scale": {"domain": [-0.12, 0.46], "nice": false, "zero": false},
             "axis": {"orient": "left", "values": [-0.1,0,0.1,0.2,0.3,0.4], "tickSize": -24, "labels": false, "title": null}},
       "y2": {"field": "sysHi"},
       "fill": {"field": "key", "type": "nominal", "scale": {"domain": ["p+p","p+Al","p+Au"], "range": ["rgba(70,110,215,0.5)","rgba(120,140,120,0.08)","rgba(210,150,90,0.10)"]}, "legend": null},
       "stroke": {"field": "key", "type": "nominal", "scale": {"domain": ["p+p","th_pp","p+Al","th_pAl","p+Au","th_pAu"], "range": ["#0000ff","#0000ff","#1a6e1a","#1a6e1a","#ff0000","#ff0000"]}, "legend": null}
     }},
    {"data": {"name": "th"}, "transform": [{"filter": "datum.panel == 'd'"}],
     "mark": {"type": "line", "strokeWidth": 4.5, "interpolate": "monotone", "strokeCap": "butt"},
     "encoding": {
       "x": {"field": "pt", "type": "quantitative", "scale": {"domain": [0.0103, 0.2391], "nice": false, "zero": false}, "axis": null},
       "y": {"field": "an", "type": "quantitative", "scale": {"domain": [-0.12, 0.46], "nice": false, "zero": false}, "axis": null},
       "stroke": {"field": "key", "type": "nominal", "scale": {"domain": ["p+p","th_pp","p+Al","th_pAl","p+Au","th_pAu"], "range": ["#0000ff","#0000ff","#1a6e1a","#1a6e1a","#ff0000","#ff0000"]}, "legend": null},
       "strokeDash": {"field": "key", "type": "nominal", "scale": {"domain": ["th_pp","th_pAl","th_pAu"], "range": [[1,0],[12,8],[5,5]]}, "legend": null}
     }},
    {"data": {"name": "pts"}, "transform": [{"filter": "datum.panel == 'd'"}],
     "mark": {"type": "rule", "strokeWidth": 4},
     "encoding": {
       "x": {"field": "pt", "type": "quantitative", "scale": {"domain": [0.0103, 0.2391], "nice": false, "zero": false}, "axis": null},
       "y": {"field": "statLo", "type": "quantitative", "scale": {"domain": [-0.12, 0.46], "nice": false, "zero": false}, "axis": null},
       "y2": {"field": "statHi"},
       "color": {"field": "key", "type": "nominal", "scale": {"domain": ["p+p","p+Al","p+Au"], "range": ["#0000ff","#1a6e1a","#ff0000"]}, "legend": null}
     }},
    {"data": {"name": "pts"}, "transform": [{"filter": "datum.panel == 'd'"}],
     "mark": {"type": "point", "filled": true, "opacity": 1},
     "encoding": {
       "x": {"field": "pt", "type": "quantitative", "scale": {"domain": [0.0103, 0.2391], "nice": false, "zero": false},
             "axis": {"orient": "bottom", "values": [0.015,0.02,0.025,0.03,0.035,0.04,0.045,0.05,0.055,0.06,0.065,0.07,0.075,0.08,0.085,0.09,0.095,0.1,0.105,0.11,0.115,0.12,0.125,0.13,0.135,0.14,0.145,0.15,0.155,0.16,0.165,0.17,0.175,0.18,0.185,0.19,0.195,0.2,0.205,0.21,0.215,0.22,0.225,0.23,0.235], "tickSize": -9, "labels": false, "title": "T", "titleFontSize": 17, "titleX": 750, "titleY": 63, "titleAlign": "center", "titleBaseline": "alphabetic", "titleAngle": 0}},
       "y": {"field": "an", "type": "quantitative", "scale": {"domain": [-0.12, 0.46], "nice": false, "zero": false},
             "axis": {"orient": "left", "values": [-0.1,-0.08,-0.06,-0.04,-0.02,0,0.02,0.04,0.06,0.08,0.1,0.12,0.14,0.16,0.18,0.2,0.22,0.24,0.26,0.28,0.3,0.32,0.34,0.36,0.38,0.4,0.42,0.44], "tickSize": -12, "labels": false, "title": null}},
       "color": {"field": "key", "type": "nominal", "scale": {"domain": ["p+p","p+Al","p+Au"], "range": ["#0000ff","#1a6e1a","#ff0000"]}, "legend": null},
       "shape": {"field": "key", "type": "nominal", "scale": {"domain": ["p+p","p+Al","p+Au"], "range": ["triangle-down","square","circle"]}, "legend": null},
       "size": {"field": "key", "type": "nominal", "scale": {"domain": ["p+p","p+Al","p+Au"], "range": [150, 100, 115]}, "legend": null}
     }},
    {"data": {"values": [{}]}, "mark": {"type": "text", "text": "< 1.00", "align": "right", "baseline": "alphabetic", "fontSize": 27, "fontWeight": "bold"},
     "encoding": {"x": {"datum": 0.2319, "type": "quantitative", "axis": null}, "y": {"datum": 0.4152, "type": "quantitative", "axis": null}}},
    {"data": {"values": [{}]}, "mark": {"type": "text", "text": "F", "align": "right", "baseline": "alphabetic", "fontSize": 15, "fontWeight": "bold", "dx": -82, "dy": 8},
     "encoding": {"x": {"datum": 0.2319, "type": "quantitative", "axis": null}, "y": {"datum": 0.4152, "type": "quantitative", "axis": null}}},
    {"data": {"values": [{}]}, "mark": {"type": "text", "text": "0.85 < x", "align": "right", "baseline": "alphabetic", "fontSize": 27, "fontWeight": "bold", "dx": -91},
     "encoding": {"x": {"datum": 0.2319, "type": "quantitative", "axis": null}, "y": {"datum": 0.4152, "type": "quantitative", "axis": null}}},
    {"data": {"values": [{}]}, "mark": {"type": "text", "text": "PH", "align": "left", "baseline": "alphabetic", "fontSize": 60, "fontWeight": "bold"},
     "encoding": {"x": {"datum": 0.01788, "type": "quantitative", "axis": null}, "y": {"datum": 0.3635, "type": "quantitative", "axis": null}}},
    {"data": {"values": [{}]}, "mark": {"type": "text", "text": "ENIX", "align": "left", "baseline": "alphabetic", "fontSize": 60, "fontWeight": "bold", "dx": 135},
     "encoding": {"x": {"datum": 0.01788, "type": "quantitative", "axis": null}, "y": {"datum": 0.3635, "type": "quantitative", "axis": null}}},
    {"data": {"values": [{}]}, "mark": {"type": "text", "text": "preliminary", "align": "left", "baseline": "alphabetic", "fontSize": 50, "font": "DejaVu Sans", "dx": -6, "dy": 50},
     "encoding": {"x": {"datum": 0.01788, "type": "quantitative", "axis": null}, "y": {"datum": 0.3635, "type": "quantitative", "axis": null}}},
    {"data": {"values": [{}]}, "mark": {"type": "point", "filled": false, "opacity": 1, "color": "#8a8a8a", "strokeWidth": 2.5, "size": 2916, "dx": 112, "dy": -20,
       "shape": "M0.22,0L1,0M0.203,0.084L0.924,0.383M0.156,0.156L0.707,0.707M0.084,0.203L0.383,0.924M0,0.22L0,1M-0.084,0.203L-0.383,0.924M-0.156,0.156L-0.707,0.707M-0.203,0.084L-0.924,0.383M-0.22,0L-1,0M-0.203,-0.084L-0.924,-0.383M-0.156,-0.156L-0.707,-0.707M-0.084,-0.203L-0.383,-0.924M0,-0.22L0,-1M0.084,-0.203L0.383,-0.924M0.156,-0.156L0.707,-0.707M0.203,-0.084L0.924,-0.383"},
     "encoding": {"x": {"datum": 0.0478, "type": "quantitative", "axis": null}, "y": {"datum": 0.3852, "type": "quantitative", "axis": null}}},
    {"data": {"values": [{}]}, "mark": {"type": "point", "filled": true, "opacity": 1, "color": "#e8141e", "strokeWidth": 0, "size": 29584,
       "shape": "M-0.973,-0.174C-0.7,-0.17,-0.3,-0.05,0,0.16C0.15,0.04,0.4,-0.06,1,-0.052C0.4,-0.09,0.15,0,0,0.1C-0.3,-0.1,-0.7,-0.2,-0.973,-0.174Z"},
     "encoding": {"x": {"datum": 0.0481, "type": "quantitative", "axis": null}, "y": {"datum": 0.4285, "type": "quantitative", "axis": null}}}
  ]
}
]
}
